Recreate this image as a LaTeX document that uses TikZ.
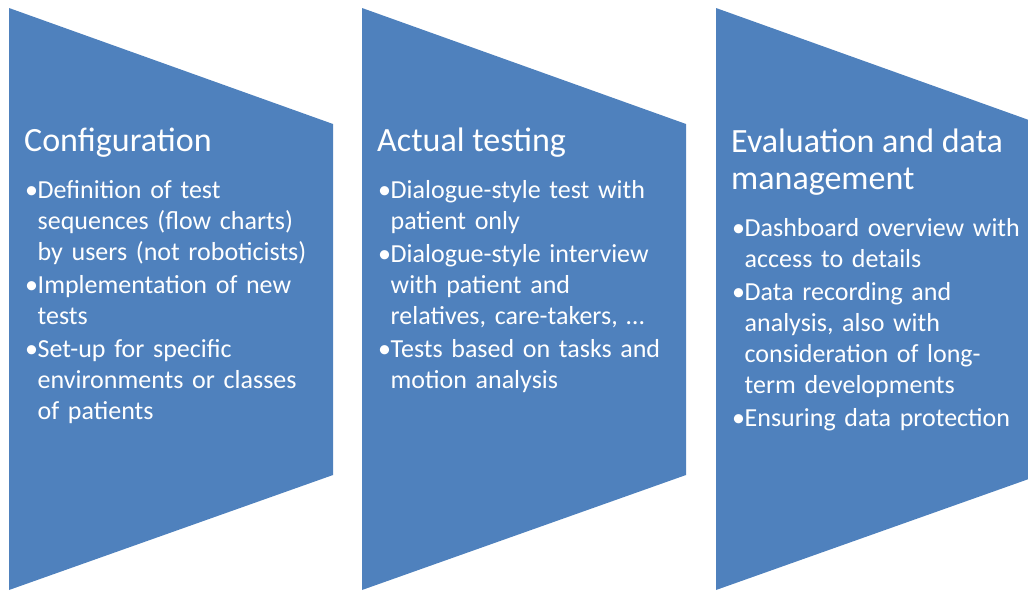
\documentclass[tikz,border=0pt]{standalone}
\usepackage{fontspec}
\setmainfont{Carlito}
\usetikzlibrary{positioning}
\definecolor{stageblue}{HTML}{4F81BD}
\newcommand{\bul}{\par\hangindent=12.5pt\hangafter=1\noindent\makebox[12.5pt][l]{\textbullet}}

\begin{document}
\begin{tikzpicture}[x=1pt, y=-1pt,
    stagetitle/.style={anchor=base west, inner sep=0pt, text=white, align=left,
        font=\fontsize{34}{37}\selectfont},
    stagelist/.style={anchor=base west, inner sep=0pt, text=white, text width=320pt,
        font=\fontsize{26}{31}\selectfont\raggedright\setlength{\parskip}{2pt}}]
    % Frame
    \useasboundingbox (0,0) rectangle (1028,590);
    \clip (0,0) rectangle (1028,590);

    % Three stage shapes
    \foreach \x in {9, 362, 716} {
        \fill[stageblue] (\x,8) -- (\x+324,124) -- (\x+324,475) -- (\x,590) -- cycle;
    }

    % Stage 1
    \node[stagetitle] (conf) at (24,151) {Configuration};
    \node[stagelist] (conflist) at (25,165) {%
        \bul Definition of test\newline sequences (flow charts)\newline by users (not roboticists)
        \bul Implementation of new\newline tests
        \bul Set-up for specific\newline environments or classes\newline of patients\par};

    % Stage 2
    \node[stagetitle] (test) at (377,151) {Actual testing};
    \node[stagelist] (testlist) at (378,165) {%
        \bul Dialogue-style test with\newline patient only
        \bul Dialogue-style interview\newline with patient and\newline relatives, care-takers, \dots
        \bul Tests based on tasks and\newline motion analysis\par};

    % Stage 3
    \node[stagetitle] (eval) at (731,189) {Evaluation and data\\management};
    \node[stagelist] (evallist) at (732,203) {%
        \bul Dashboard overview with\newline access to details
        \bul Data recording and\newline analysis, also with\newline consideration of long-\newline term developments
        \bul Ensuring data protection\par};
\end{tikzpicture}
\end{document}
